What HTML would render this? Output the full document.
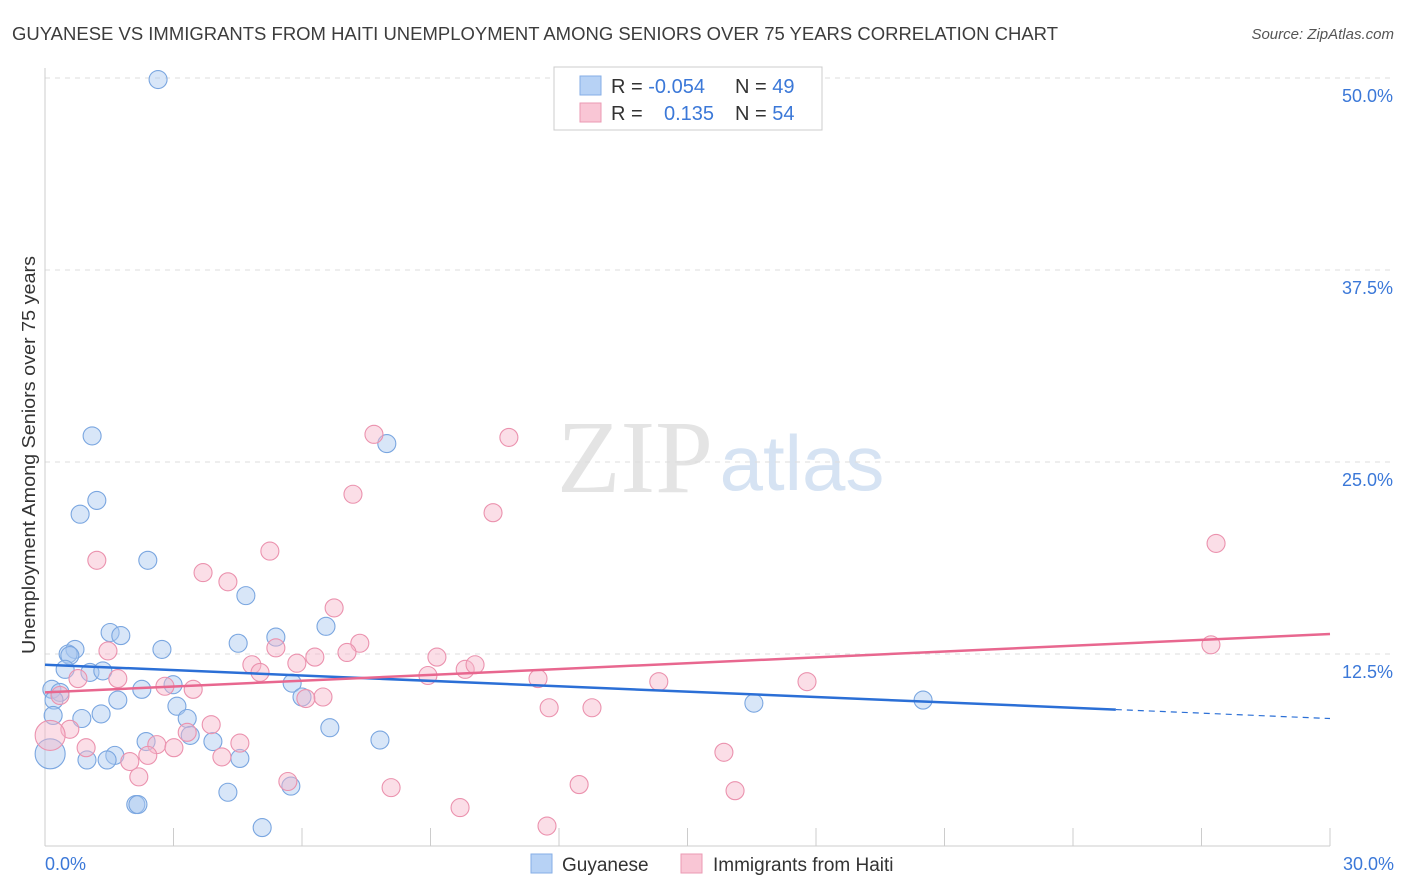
<!DOCTYPE html>
<html><head><meta charset="utf-8">
<style>
body{margin:0;background:#fff;font-family:"Liberation Sans",sans-serif;}
svg{display:block}
</style></head>
<body>
<svg id="chart" width="1406" height="892">
<text x="12" y="40" font-size="18" fill="#3c3c3c" textLength="1046" lengthAdjust="spacingAndGlyphs">GUYANESE VS IMMIGRANTS FROM HAITI UNEMPLOYMENT AMONG SENIORS OVER 75 YEARS CORRELATION CHART</text>
<text x="1394" y="39" font-size="15" fill="#555" font-style="italic" text-anchor="end">Source: ZipAtlas.com</text>
<text x="35" y="455" font-size="18" fill="#333" text-anchor="middle" textLength="398" lengthAdjust="spacingAndGlyphs" transform="rotate(-90 35 455)">Unemployment Among Seniors over 75 years</text>
<text x="635" y="492" font-size="104" fill="#e4e4e4" font-family="Liberation Serif,serif" text-anchor="middle">ZIP</text>
<text x="802" y="490" font-size="78" fill="#d6e3f3" text-anchor="middle">atlas</text>
<g id="grid"></g><g id="axes"></g><g id="pts"></g><g id="lines"></g>
<g>
<rect x="554" y="67" width="268" height="63" fill="#fff" stroke="#ccc"/>
<rect x="580" y="76" width="21" height="19" fill="#b7d2f5" stroke="#86aee6"/>
<rect x="580" y="103" width="21" height="19" fill="#f9c6d5" stroke="#eb9ab3"/>
<text x="611" y="93" font-size="20" fill="#333">R = <tspan fill="#3b78d8">-0.054</tspan><tspan x="735">N = </tspan><tspan fill="#3b78d8">49</tspan></text>
<text x="611" y="120" font-size="20" fill="#333">R = <tspan x="664" fill="#3b78d8">0.135</tspan><tspan x="735">N = </tspan><tspan fill="#3b78d8">54</tspan></text>
</g>
<g>
<rect x="531" y="854" width="21" height="19" fill="#b7d2f5" stroke="#86aee6"/>
<text x="562" y="871" font-size="19" fill="#333">Guyanese</text>
<rect x="681" y="854" width="21" height="19" fill="#f9c6d5" stroke="#eb9ab3"/>
<text x="713" y="871" font-size="19" fill="#333">Immigrants from Haiti</text>
</g>
</svg>
<script>
const xTicks=[0,3,6,9,12,15,18,21,24,27,30];
const yTicks=[12.5,25,37.5,50];
const yTickLabels=["12.5%","25.0%","37.5%","50.0%"];
const guyX=[2.64,1.10,7.98,1.21,0.82,2.40,4.69,1.52,1.77,6.56,5.39,4.51,2.73,0.70,0.54,0.58,0.47,1.05,1.35,0.16,0.35,2.26,2.99,5.77,1.70,3.08,6.00,0.21,0.19,1.31,0.86,3.32,3.39,6.65,2.36,3.92,7.82,1.63,0.98,1.45,4.55,0.12,4.27,5.74,2.12,2.17,5.07,16.55,20.50];
const guyY=[49.9,26.7,26.2,22.5,21.6,18.6,16.3,13.9,13.7,14.3,13.6,13.2,12.8,12.8,12.5,12.4,11.5,11.3,11.4,10.2,10.0,10.2,10.5,10.6,9.5,9.1,9.7,9.5,8.5,8.6,8.3,8.3,7.2,7.7,6.8,6.8,6.9,5.9,5.6,5.6,5.7,6.0,3.5,3.9,2.7,2.7,1.2,9.3,9.5];
const haiX=[7.68,10.83,7.19,10.46,27.34,1.21,5.25,3.69,4.27,6.75,1.47,4.83,5.39,5.88,6.30,7.35,7.05,9.15,9.81,10.04,8.94,11.51,14.33,17.79,27.22,1.70,0.77,0.35,2.80,3.46,6.49,6.09,5.02,11.77,12.77,3.88,0.58,0.96,3.32,2.61,4.55,3.01,2.40,1.98,4.13,0.12,2.19,5.67,8.08,12.47,15.85,16.11,9.69,11.72];
const haiY=[26.8,26.6,22.9,21.7,19.7,18.6,19.2,17.8,17.2,15.5,12.7,11.8,12.9,11.9,12.3,13.2,12.6,12.3,11.5,11.8,11.1,10.9,10.7,10.7,13.1,10.9,10.9,9.8,10.4,10.2,9.7,9.6,11.3,9.0,9.0,7.9,7.6,6.4,7.4,6.6,6.7,6.4,5.9,5.5,5.8,7.2,4.5,4.2,3.8,4.0,6.1,3.6,2.5,1.3];
const guyTrend=[11.8,-0.1167];
const haiTrend=[10.0,0.1267];
const NS="http://www.w3.org/2000/svg";
const X=v=>45+v/30*1285, Y=v=>846-v/50*768;
function mk(t,a,p){const e=document.createElementNS(NS,t);for(const k in a)e.setAttribute(k,a[k]);document.getElementById(p).appendChild(e);return e;}
yTicks.forEach((t,i)=>{
 const l=mk('line',{x1:45,x2:1395,y1:Y(t),y2:Y(t),stroke:'#ddd','stroke-dasharray':'5,5'},'grid');
 
 
 const tx=mk('text',{x:1393,y:Y(t)+24,'font-size':18,fill:'#3b78d8','text-anchor':'end'},'grid');
 tx.textContent=yTickLabels[i];
 
 
});
mk('line',{x1:45,x2:45,y1:68,y2:846,stroke:'#ccc'},'axes');
mk('line',{x1:45,x2:1330,y1:846,y2:846,stroke:'#ccc'},'axes');
xTicks.forEach(t=>{const l=mk('line',{x1:X(t),x2:X(t),y1:828,y2:846,stroke:'#ccc'},'axes');
 
 });
let a=mk('text',{x:45,y:870,'font-size':18,fill:'#3b78d8'},'axes');a.textContent='0.0%';


a=mk('text',{x:1394,y:870,'font-size':18,fill:'#3b78d8','text-anchor':'end'},'axes');a.textContent='30.0%';


function pts(xs,ys,fill,stroke,name){xs.forEach((x,i)=>{const big=(x<0.2&&i>0&&ys[i]>5.5&&ys[i]<7.5);
 const c=mk('circle',{cx:X(x),cy:Y(ys[i]),r:big?15:9,fill:fill,'fill-opacity':0.45,stroke:stroke,'stroke-width':1.1},'pts');
 
 });}
pts(guyX,guyY,'#a9c8f0','#7aa6e0','guyanese-point');
pts(haiX,haiY,'#f6b6ca','#eb92ae','haiti-point');
let ln=mk('line',{x1:X(0),y1:Y(guyTrend[0]),x2:X(25),y2:Y(guyTrend[0]+25*guyTrend[1]),stroke:'#2b6fd6','stroke-width':2.5},'lines');


ln=mk('line',{x1:X(25),y1:Y(guyTrend[0]+25*guyTrend[1]),x2:X(30),y2:Y(guyTrend[0]+30*guyTrend[1]),stroke:'#2b6fd6','stroke-width':1.2,'stroke-dasharray':'6,5'},'lines');


ln=mk('line',{x1:X(0),y1:Y(haiTrend[0]),x2:X(30),y2:Y(haiTrend[0]+30*haiTrend[1]),stroke:'#e8678f','stroke-width':2.5},'lines');


</script>
</body></html>
